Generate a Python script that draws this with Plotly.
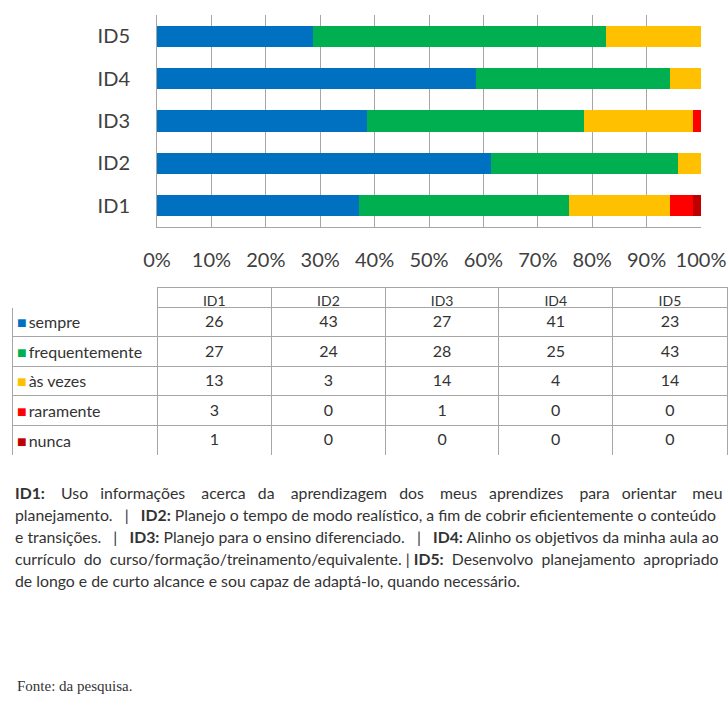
import plotly.graph_objects as go

# Dados
ids = ["ID1", "ID2", "ID3", "ID4", "ID5"]
categorias = ["sempre", "frequentemente", "às vezes", "raramente", "nunca"]
sempre = [26, 43, 27, 41, 23]
frequentemente = [27, 24, 28, 25, 43]
as_vezes = [13, 3, 14, 4, 14]
raramente = [3, 0, 1, 0, 0]
nunca = [1, 0, 0, 0, 0]
cores = ["#0070C0", "#00B050", "#FFC000", "#FF0000", "#C00000"]
ticks_x = [0, 10, 20, 30, 40, 50, 60, 70, 80, 90, 100]

series = [sempre, frequentemente, as_vezes, raramente, nunca]

W, H = 728, 704
FONTE = "Lato, sans-serif"
grade = "#A6A6A6"

def fx(px):
    return px / W

def fy(px):
    return 1 - px / H

TAB_TOP, CAB_H, LIN_H = 287, 20, 29.6

fig = go.Figure()

for nome, vals, cor in zip(categorias, series, cores):
    fig.add_trace(go.Bar(
        y=ids, x=vals, name=nome, orientation="h",
        marker=dict(color=cor, line=dict(width=0)),
        showlegend=False, hoverinfo="x+name"
    ))

colunas = [[""] * len(categorias)] + [[s[i] for s in series] for i in range(len(ids))]

fig.add_trace(go.Table(
    domain=dict(x=[fx(12), fx(727)], y=[fy(TAB_TOP + CAB_H + 5 * LIN_H + 1), fy(TAB_TOP)]),
    columnwidth=[145, 114, 114, 113, 114, 114],
    header=dict(
        values=[""] + ids,
        height=CAB_H,
        align="center",
        fill_color="white",
        line=dict(color=["white"] + [grade] * 5, width=1),
        font=dict(family=FONTE, size=14, color="#333333"),
    ),
    cells=dict(
        values=colunas,
        height=LIN_H,
        align="center",
        fill_color="white",
        line=dict(color=grade, width=1),
        font=dict(family=FONTE, size=16, color="#333333"),
    ),
))

# rótulos da primeira coluna, com o quadradinho de cor
for i, (nome, cor) in enumerate(zip(categorias, cores)):
    fig.add_annotation(
        x=fx(15), y=fy(TAB_TOP + CAB_H + LIN_H * (i + 0.5)), xref="paper", yref="paper",
        xanchor="left", yanchor="middle", showarrow=False,
        text=f'<span style="color:{cor}">■</span>\u2009{nome}',
        font=dict(family=FONTE, size=16, color="#333333"),
    )

fig.update_layout(
    width=W, height=H,
    barmode="stack", barnorm="percent", bargap=0.5,
    paper_bgcolor="white", plot_bgcolor="white",
    margin=dict(l=0, r=0, t=0, b=0),
    font=dict(family=FONTE, color="#333333"),
    xaxis=dict(
        domain=[fx(157), fx(701)], range=[0, 100], automargin=False,
        tickvals=ticks_x, ticktext=[f"{t}%" for t in ticks_x],
        showgrid=True, gridcolor=grade, gridwidth=1,
        showline=True, linecolor=grade,
        ticks="", ticklabelstandoff=15,
        tickfont=dict(size=20, color="#404040"), zeroline=False,
        fixedrange=True,
    ),
    yaxis=dict(
        domain=[fy(227), fy(15)], automargin=False,
        showline=True, linecolor=grade,
        ticks="", ticklabelstandoff=22,
        tickfont=dict(size=20, color="#404040"),
        fixedrange=True,
    ),
)

# texto explicativo (justificado à mão com espaços fixos)
nb = "\u00a0"
def esp(n):
    return nb * n

palavras1 = ["<b>ID1:</b>", "Uso", "informações", "acerca", "da", "aprendizagem", "dos",
             "meus", "aprendizes", "para", "orientar", "meu"]
l1 = palavras1[0]
for k, p in enumerate(palavras1[1:]):
    l1 += esp(4 if k % 2 == 0 else 3) + p

linhas = [
    l1,
    "planejamento." + esp(3) + "|" + esp(3) + "<b>ID2:</b> Planejo o tempo de modo realístico, a fim de cobrir eficientemente o conteúdo",
    "e transições." + esp(3) + "|" + esp(3) + "<b>ID3:</b> Planejo para o ensino diferenciado." + esp(3) + "|" + esp(3)
    + "<b>ID4:</b> Alinho os objetivos da minha aula ao",
    "currículo" + esp(2) + "do" + esp(2) + "curso/formação/treinamento/equivalente." + esp(1) + "|" + esp(1)
    + "<b>ID5:</b>" + esp(2) + "Desenvolvo" + esp(2) + "planejamento" + esp(2) + "apropriado",
    "de longo e de curto alcance e sou capaz de adaptá-lo, quando necessário.",
]
for i, t in enumerate(linhas):
    fig.add_annotation(
        x=fx(13), y=fy(492 + 22 * i), xref="paper", yref="paper",
        xanchor="left", yanchor="middle", showarrow=False, text=t, height=21,
        font=dict(family=FONTE, size=15.8, color="#333333"),
    )

fig.add_annotation(
    x=fx(15), y=fy(686), xref="paper", yref="paper",
    xanchor="left", yanchor="middle", showarrow=False, text="Fonte: da pesquisa.",
    font=dict(family="Liberation Serif, Times New Roman, serif", size=15, color="#333333"),
)

# sem a margem padrão do body, a figura ocupa a janela toda
fig.write_html("out.html", config={"displayModeBar": False},
               post_script="document.body.style.margin = '0';")
